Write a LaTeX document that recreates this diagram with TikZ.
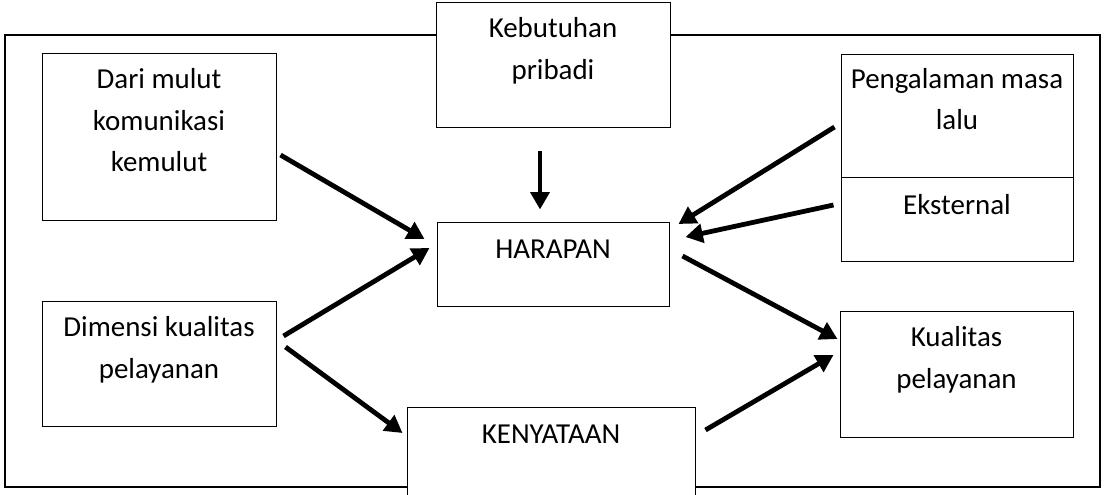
\documentclass[tikz,border=0pt]{standalone}
\usepackage{fontspec}
\setmainfont{Carlito}
\usetikzlibrary{positioning, arrows.meta}

\begin{document}
\begin{tikzpicture}[x=0.75pt, y=-0.75pt,
  box/.style={draw, fill=white, line width=0.75pt, inner sep=0pt},
  txt/.style={align=center, inner sep=0pt, font=\fontsize{21.7}{31}\selectfont},
  arr/.style={line width=3.6pt, -{Triangle[length=13pt, width=14pt]}}]
\clip (0,0) rectangle (1104,494);
\fill[white] (0,0) rectangle (1104,494);
\draw[line width=1.1pt] (5,35) rectangle (1100,487);

% boxes
\node[box, minimum width=175.5pt, minimum height=93.75pt] (kebutuhan) at (553,64.5) {};
\node[box, minimum width=175.5pt, minimum height=125.25pt] (mulut) at (159,136.5) {};
\node[box, minimum width=174pt, minimum height=92.25pt] (pengalaman) at (957,115.5) {};
\node[box, minimum width=174pt, minimum height=63pt] (eksternal) at (957,219) {};
\node[box, minimum width=174pt, minimum height=63pt] (harapan) at (553,264) {};
\node[box, minimum width=175.5pt, minimum height=93.75pt] (dimensi) at (159,363.5) {};
\node[box, minimum width=174.75pt, minimum height=94.5pt] (kualitas) at (956.5,374) {};
\node[box, minimum width=216pt, minimum height=82.5pt] (kenyataan) at (551,462) {};

% texts (strut keeps first baselines level)
\node[txt, below=5.25pt of kebutuhan.north] (kebutuhan-txt) {\strut Kebutuhan\\pribadi};
\node[txt, below=5.25pt of mulut.north] (mulut-txt) {\strut Dari mulut\\komunikasi\\kemulut};
\node[txt, below=4pt of pengalaman.north] (pengalaman-txt) {\strut Pengalaman masa\\lalu};
\node[txt, below=6.75pt of eksternal.north] (eksternal-txt) {\strut Eksternal};
\node[txt, below=6pt of harapan.north] (harapan-txt) {\strut HARAPAN};
\node[txt, below=5.25pt of dimensi.north] (dimensi-txt) {\strut Dimensi kualitas\\pelayanan};
\node[txt, below=5.25pt of kualitas.north] (kualitas-txt) {\strut Kualitas\\pelayanan};
\node[txt, below=6pt of kenyataan.north] (kenyataan-txt) {\strut KENYATAAN};

% arrows
\draw[arr] ([shift={(-13,23)}]kebutuhan.south) -- ([shift={(-13,-12)}]harapan.north);
\draw[arr] ([shift={(4,18.5)}]mulut.east) -- ([shift={(-12,-25)}]harapan.west);
\draw[arr] ([shift={(7,-27.5)}]dimensi.east) -- ([shift={(-7,-16)}]harapan.west);
\draw[arr] ([shift={(9,-16.5)}]dimensi.east) -- ([shift={(-4,-29)}]kenyataan.west);
\draw[arr] ([shift={(-6,11.5)}]pengalaman.west) -- ([shift={(9,-40)}]harapan.east);
\draw[arr] ([shift={(-7,-14)}]eksternal.west) -- ([shift={(16,-27)}]harapan.east);
\draw[arr] ([shift={(13,-8)}]harapan.east) -- ([shift={(-2,-35)}]kualitas.west);
\draw[arr] ([shift={(10,-32)}]kenyataan.east) -- ([shift={(-6,-19)}]kualitas.west);
\end{tikzpicture}
\end{document}
